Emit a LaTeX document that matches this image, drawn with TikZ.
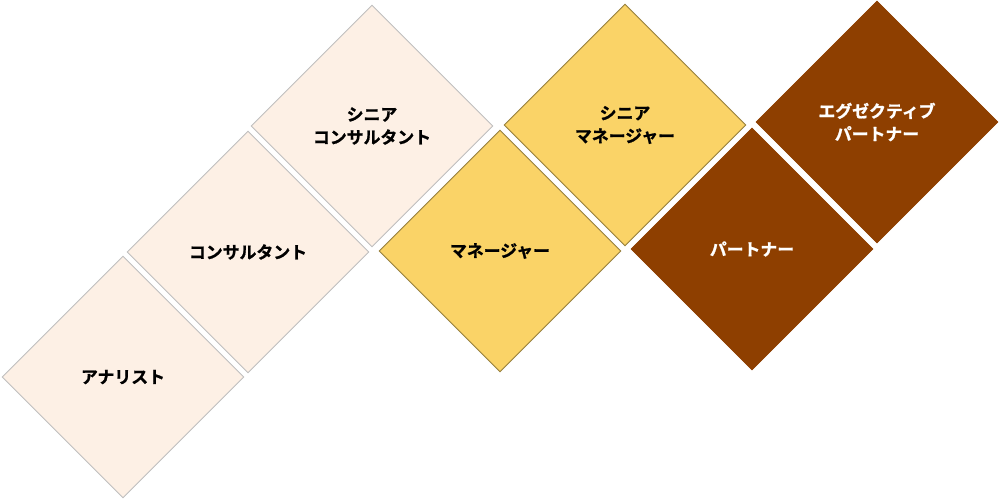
\documentclass[tikz,border=0pt]{standalone}
\usepackage{fontspec}
\newfontfamily\jpfont{Noto Sans CJK JP Bold}[FakeBold=1.2]
\usepackage{tikz}
\usetikzlibrary{shapes.geometric}

\definecolor{juniorfill}{HTML}{FDF0E5}
\definecolor{managerfill}{HTML}{FAD367}
\definecolor{partnerfill}{HTML}{8E3F00}

\begin{document}
\begin{tikzpicture}[x=0.2mm, y=-0.2mm,
    grade/.style={diamond, aspect=1, minimum size=48.4mm, inner sep=0pt, line width=0.5pt,
        align=center, font=\jpfont\fontsize{9.6}{13}\selectfont},
    junior/.style={grade, draw=black!25, fill=juniorfill, text=black},
    manager/.style={grade, draw=black!25!managerfill!80!black, fill=managerfill, text=black},
    partner/.style={grade, draw=partnerfill, fill=partnerfill, text=white}]

    \useasboundingbox (0,0) rectangle (1000,501);

    \node[junior] (analyst) at (123,377) {アナリスト};
    \node[junior] (consultant) at (248,252) {コンサルタント};
    \node[junior] (seniorconsultant) at (372,126) {シニア\\コンサルタント};

    \node[manager] (manager) at (500,251) {マネージャー};
    \node[manager] (seniormanager) at (625,125) {シニア\\マネージャー};

    \node[partner] (partner) at (752,249) {パートナー};
    \node[partner] (executivepartner) at (877,122) {エグゼクティブ\\パートナー};

\end{tikzpicture}
\end{document}
